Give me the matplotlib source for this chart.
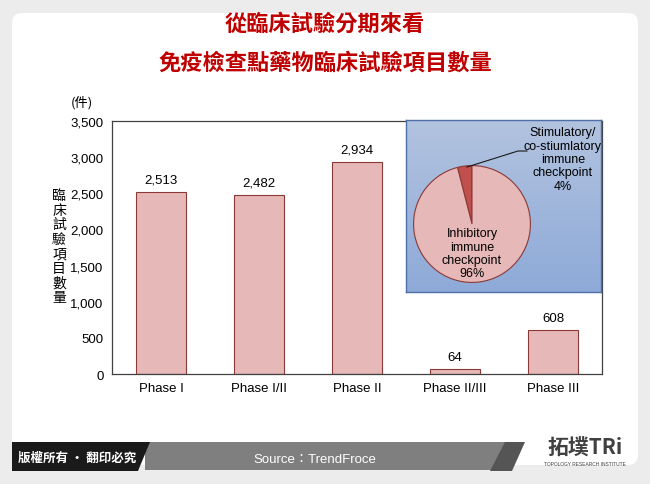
import matplotlib.pyplot as plt
from matplotlib.patches import FancyBboxPatch, Polygon, Rectangle
from matplotlib.colors import LinearSegmentedColormap
import numpy as np

plt.rcParams['font.family'] = ['Liberation Sans', 'Noto Sans CJK TC', 'DejaVu Sans']

# data
phases = ['Phase I', 'Phase I/II', 'Phase II', 'Phase II/III', 'Phase III']
counts = [2513, 2482, 2934, 64, 608]
yticks = [0, 500, 1000, 1500, 2000, 2500, 3000, 3500]
pie_labels = ['Stimulatory/\nco-stiumlatory\nimmune\ncheckpoint', 'Inhibitory\nimmune\ncheckpoint']
pie_shares = [4, 96]

W, H = 650, 485
fig = plt.figure(figsize=(W / 100, H / 100), dpi=100)
fig.patch.set_facecolor('#ececec')

def fx(x):
    return x / W

def fy(y):
    return 1 - y / H

# white rounded panel
bg = fig.add_axes([0, 0, 1, 1], zorder=0)
bg.set_xlim(0, W)
bg.set_ylim(H, 0)
bg.axis('off')
bg.add_patch(FancyBboxPatch((12, 14), 626, 452, boxstyle='round,pad=0,rounding_size=10',
                            fc='white', ec='none'))

# footer
bg.add_patch(Rectangle((145, 443), 360, 28, fc='#7f7f7f', ec='none'))
bg.add_patch(Polygon([(12, 443), (150, 443), (138, 472), (12, 472)], closed=True, fc='#1a1a1a', ec='none'))
bg.add_patch(Polygon([(505, 443), (525, 443), (512, 472), (490, 472)], closed=True, fc='#555555', ec='none'))
bg.text(77, 458, '版權所有 · 翻印必究', color='white', fontsize=9, fontweight='bold',
        ha='center', va='center', family=['Noto Sans CJK TC'])
bg.text(315, 460, 'Source：TrendFroce', color='white', fontsize=9.5,
        ha='center', va='center', family=['Liberation Sans', 'Noto Sans CJK TC'])
bg.text(585, 448, '拓墣TRi', color='#404040', fontsize=15, fontweight='bold',
        ha='center', va='center', family=['Noto Sans CJK TC'])
bg.text(585, 465, 'TOPOLOGY RESEARCH INSTITUTE', color='#404040', fontsize=3.5,
        ha='center', va='center')

# title
bg.text(325, 24, '從臨床試驗分期來看', color='#c00000', fontsize=16, fontweight='bold',
        ha='center', va='center', family=['Noto Sans CJK TC'])
bg.text(325, 63, '免疫檢查點藥物臨床試驗項目數量', color='#c00000', fontsize=16, fontweight='bold',
        ha='center', va='center', family=['Noto Sans CJK TC'])

# bar chart
ax = fig.add_axes([fx(112), fy(375), fx(602 - 112), (375 - 122) / H], zorder=1)
x = np.arange(len(phases))
ax.bar(x, counts, width=0.52, color='#e6b9b8', edgecolor='#8c3836', linewidth=0.8)
for xi, v in zip(x, counts):
    ax.text(xi, v + 90, f'{v:,}', ha='center', va='bottom', fontsize=9.5)
ax.set_xlim(-0.5, len(phases) - 0.5)
ax.set_ylim(0, 3500)
ax.set_yticks(yticks)
ax.set_yticklabels([f'{t:,}' for t in yticks], fontsize=9.5)
ax.set_xticks(x)
ax.set_xticklabels(phases, fontsize=9.5)
ax.tick_params(length=0, pad=6)
for s in ax.spines.values():
    s.set_color('#404040')
    s.set_linewidth(0.9)
ax.patch.set_alpha(0)

bg.text(82, 103, '(件)', fontsize=9.5, ha='center', va='center', family=['Noto Sans CJK TC'])
bg.text(59, 247, '\n'.join('臨床試驗項目數量'), fontsize=10, ha='center', va='center',
        linespacing=1.05, family=['Noto Sans CJK TC'])

# inset pie
box = fig.add_axes([fx(406), fy(293), fx(601 - 406), (293 - 121) / H], zorder=2)
grad = np.linspace(0, 1, 100).reshape(-1, 1)
box.imshow(grad, extent=[0, 1, 0, 1], aspect='auto', origin='upper',
           cmap=LinearSegmentedColormap.from_list('b', ['#b2c3df', '#8eaad8']))
box.set_xlim(0, 1)
box.set_ylim(0, 1)
box.set_xticks([])
box.set_yticks([])
for s in box.spines.values():
    s.set_color('#4f6fa8')
    s.set_linewidth(1)

pax = fig.add_axes([fx(413), fy(284), fx(118), 118 / H], zorder=3)
pax.pie(pie_shares, colors=['#c0504d', '#e6b9b8'], startangle=90, counterclock=True,
        wedgeprops=dict(edgecolor='#8c3836', linewidth=0.8))
pax.set_xlim(-1.01, 1.01)
pax.set_ylim(-1.01, 1.01)
pax.set_aspect('equal')
pax.text(0, -0.5, f'{pie_labels[1]}\n{pie_shares[1]}%', ha='center', va='center',
         fontsize=9, linespacing=1.15)

# overlay for labels on top of the inset
top = fig.add_axes([0, 0, 1, 1], zorder=4)
top.set_xlim(0, W)
top.set_ylim(H, 0)
top.axis('off')
top.text(563, 160, f'{pie_labels[0]}\n{pie_shares[0]}%', ha='center', va='center',
         fontsize=9, linespacing=1.15)
top.plot([467, 518, 527], [168, 152, 152], color='#1a1a1a', lw=0.8)

fig.savefig('out.png', dpi=100, facecolor=fig.get_facecolor())
